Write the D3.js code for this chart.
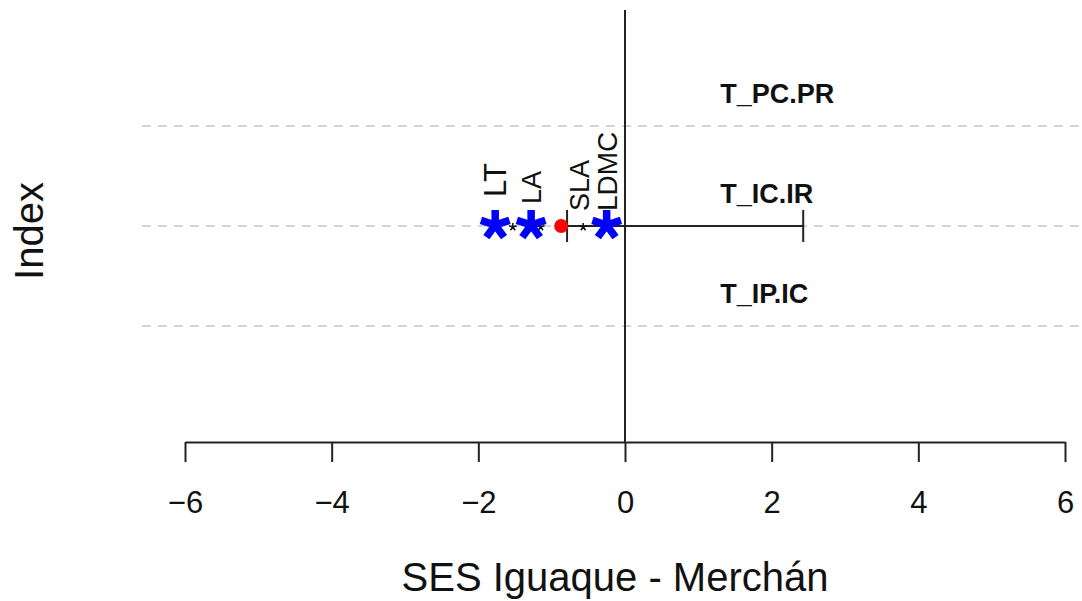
<!DOCTYPE html>
<html>
<head>
<meta charset="utf-8">
<script src="https://cdn.jsdelivr.net/npm/d3@7"></script>
<style>
  html, body { margin: 0; padding: 0; background: #fff; }
  svg { display: block; font-family: "Liberation Sans", Arial, Helvetica, sans-serif; }
</style>
</head>
<body>
<svg id="chart" width="1082" height="601"></svg>
<script>
// ---- data ----
const xTicks = [-6, -4, -2, 0, 2, 4, 6];
const rowLabels = ["T_PC.PR", "T_IC.IR", "T_IP.IC"];
const rowIndex = [3, 2, 1];

// SES of the community mean and its interval
const sesMean = -0.87;
const sesLow = -0.79;
const sesHigh = 2.43;
const sesIndex = 2;

// individual traits
const traits = ["LT", "LA", "SLA", "LDMC"];
const traitSES = [-1.77, -1.28, -0.62, -0.25];
const traitSignificant = [true, true, false, true];
const minorStarSES = [-1.53, -1.15, -0.57];

// ---- layout ----
const svg = d3.select("#chart");
const plot = { left: 142, right: 1108, top: 10, bottom: 442 };
const x = d3.scaleLinear().domain([-6, 6]).range([185, 1065]);
const y = d3.scaleLinear().domain([-0.16, 4.16]).range([plot.bottom, plot.top]);
const ink = "#222";

// text size per trait label
const labelStyle = {
  LT:   { size: 31, bottom: 197 },
  LA:   { size: 27, bottom: 204 },
  SLA:  { size: 27, bottom: 211 },
  LDMC: { size: 28, bottom: 211 }
};

// five-armed asterisk symbol
const asterisk5 = {
  draw(ctx, size) {
    const r = Math.sqrt(size);
    for (let k = 0; k < 5; k++) {
      const a = k * 2 * Math.PI / 5;
      ctx.moveTo(0, 0);
      ctx.lineTo(r * Math.sin(a), -r * Math.cos(a));
    }
  }
};

// horizontal reference lines
svg.append("g").selectAll("line").data(rowIndex).join("line")
  .attr("x1", plot.left).attr("x2", plot.right)
  .attr("y1", d => y(d)).attr("y2", d => y(d))
  .attr("stroke", "#d4d4d4").attr("stroke-width", 2)
  .attr("stroke-dasharray", "9,7");

// zero line
svg.append("line")
  .attr("x1", x(0)).attr("x2", x(0))
  .attr("y1", plot.top).attr("y2", plot.bottom)
  .attr("stroke", ink).attr("stroke-width", 2);

// x axis
const axis = svg.append("g")
  .attr("transform", `translate(0,${plot.bottom})`)
  .call(d3.axisBottom(x).tickValues(xTicks).tickSize(20).tickSizeOuter(0).tickPadding(29)
    .tickFormat(d => d < 0 ? "\u2212" + Math.abs(d) : String(d)));
axis.select(".domain").attr("stroke", ink).attr("stroke-width", 2);
axis.selectAll(".tick line").attr("stroke", ink).attr("stroke-width", 2);
axis.selectAll(".tick text").attr("fill", "#111").attr("font-size", 31)
  .attr("font-family", "Liberation Sans, Arial, sans-serif");

// axis titles
svg.append("text")
  .attr("x", 615).attr("y", 591)
  .attr("text-anchor", "middle").attr("font-size", 40).attr("fill", "#111")
  .text("SES Iguaque - Merchán");
svg.append("text")
  .attr("transform", `translate(43,231) rotate(-90)`)
  .attr("text-anchor", "middle").attr("font-size", 40).attr("fill", "#111")
  .text("Index");

// row labels
svg.append("g").selectAll("text").data(rowLabels).join("text")
  .attr("x", x(1.3))
  .attr("y", (d, i) => y(rowIndex[i] + 0.33))
  .attr("dy", "0.36em")
  .attr("font-size", 27).attr("font-weight", "bold").attr("fill", "#111")
  .text(d => d);

// interval with caps
const ci = svg.append("g").attr("stroke", ink).attr("stroke-width", 2);
ci.append("line").attr("x1", x(sesLow)).attr("x2", x(sesHigh))
  .attr("y1", y(sesIndex)).attr("y2", y(sesIndex));
[sesLow, sesHigh].forEach(v => {
  ci.append("line").attr("x1", x(v)).attr("x2", x(v))
    .attr("y1", y(sesIndex) - 16).attr("y2", y(sesIndex) + 16);
});

// mean point
svg.append("circle")
  .attr("cx", x(sesMean)).attr("cy", y(sesIndex)).attr("r", 7)
  .attr("fill", "#ff0000");

// small asterisks
svg.append("g").selectAll("path").data(minorStarSES).join("path")
  .attr("transform", d => `translate(${x(d)},${y(sesIndex) + 1})`)
  .attr("d", d3.symbol().type(asterisk5).size(16))
  .attr("fill", "none").attr("stroke", "#111").attr("stroke-width", 1.5);

// significant traits
const sig = traits.map((t, i) => ({ t, v: traitSES[i], s: traitSignificant[i] })).filter(d => d.s);
svg.append("g").selectAll("path").data(sig).join("path")
  .attr("transform", d => `translate(${x(d.v)},${y(sesIndex) - 1})`)
  .attr("d", d3.symbol().type(asterisk5).size(15 * 15))
  .attr("fill", "none").attr("stroke", "#0000ff").attr("stroke-width", 7.5);

// trait labels
svg.append("g").selectAll("text").data(traits).join("text")
  .attr("transform", (d, i) => `translate(${x(traitSES[i])},${labelStyle[d].bottom}) rotate(-90)`)
  .attr("dy", "0.36em")
  .attr("font-size", d => labelStyle[d].size).attr("fill", "#111")
  .text(d => d);
</script>
</body>
</html>
